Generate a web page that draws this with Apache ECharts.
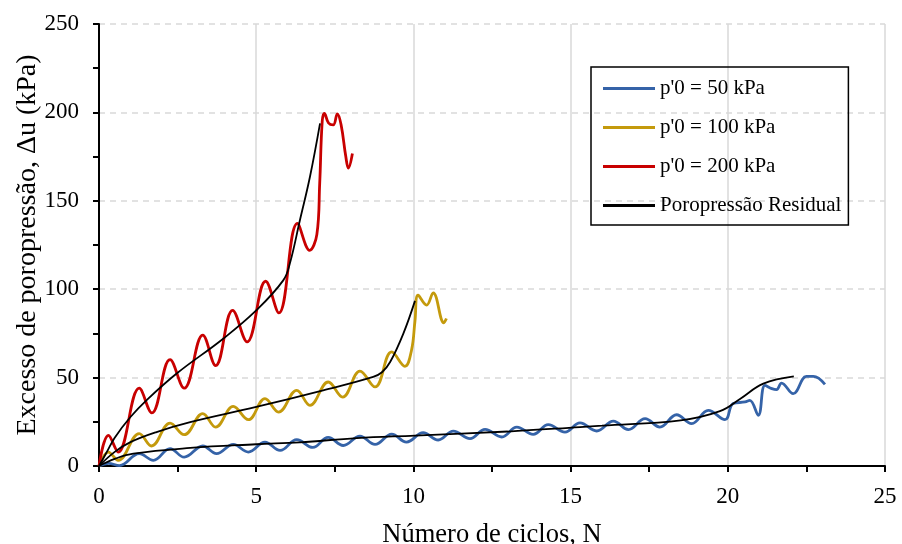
<!DOCTYPE html>
<html>
<head>
<meta charset="utf-8">
<script src="https://cdn.jsdelivr.net/npm/echarts@6/dist/echarts.min.js"></script>
<style>html,body{margin:0;padding:0;background:#fff}#c{width:902px;height:544px}</style>
</head>
<body>
<div id="c"></div>
<script>
// Measured data [N, Δu kPa]
var p50 = [[0,0],[0.3,1.5],[0.65,0.2],[1.28,7],[1.73,3.2],[2.26,9.8],[2.71,5],[3.3,11.3],[3.74,7],[4.27,12.2],[4.75,7.9],[5.28,13.5],[5.76,8.8],[6.29,14.9],[6.8,10.5],[7.29,16.2],[7.77,11.6],[8.3,16.9],[8.78,12.2],[9.31,18],[9.78,13.5],[10.31,18.9],[10.79,14.7],[11.27,19.7],[11.8,15.5],[12.28,20.7],[12.81,16.4],[13.29,22],[13.81,17.9],[14.29,23.4],[14.82,19.2],[15.3,24.4],[15.83,19.8],[16.36,25.4],[16.84,20.6],[17.37,26.8],[17.84,22],[18.37,29],[18.85,24],[19.38,31.5],[19.91,26.2],[20.17,35.3],[20.55,36.2],[20.7,37.1],[20.97,28.7],[21.18,45.6],[21.4,43.8],[21.55,43.2],[21.71,46.9],[22.08,40.9],[22.5,50.7],[22.72,50.7],[23.09,46.2]];
var p100 = [[0,0],[0.3,7.9],[0.61,3.2],[1.28,18.3],[1.67,11.3],[2.26,24.3],[2.71,17.7],[3.3,29.6],[3.71,22],[4.27,33.7],[4.75,26.2],[5.28,38.1],[5.71,30.5],[6.29,42.8],[6.71,34.3],[7.29,47.5],[7.75,39],[8.3,53.7],[8.78,44.7],[9.31,64.5],[9.73,56.4],[9.94,65.5],[10.05,82],[10.15,96.6],[10.42,91],[10.63,97.9],[10.97,81],[11.05,83.4]];
var p200 = [[0,0],[0.3,17.3],[0.61,7.9],[1.28,44],[1.68,30],[2.26,60.2],[2.71,44],[3.3,74],[3.71,56.8],[4.25,88],[4.71,70.2],[5.3,104.5],[5.72,86.6],[6.31,137.2],[6.7,122],[6.93,131],[7.02,160],[7.1,195],[7.17,199.5],[7.3,194],[7.45,192.9],[7.58,199.2],[7.7,193],[7.85,175],[7.93,168.5],[8.06,176.8]];
var res50 = [[0,0],[0.5,4],[1.09,7],[2.9,10.2],[5,12.3],[6.39,13.4],[8.2,15.8],[10.05,17.2],[13,19.5],[15.3,22],[16,22.8],[18.5,25.8],[19.75,31],[20.4,38.1],[21.13,46.6],[22.1,50.7]];
var res100 = [[0,0],[0.5,8],[1,13.5],[1.83,19.2],[2.9,24.8],[5,33.4],[7.13,42.8],[8.72,50.4],[9.0,53],[9.26,58.8],[9.68,74.9],[10.05,93.4]];
var res200 = [[0,0],[0.25,8],[0.5,16],[1,27.7],[1.5,37],[2.47,52.3],[3.95,72],[5,88],[5.86,105],[6.07,114.5],[6.39,139],[6.71,163.6],[7.03,193.8]];
var seriesNames = ["p'0 = 50 kPa","p'0 = 100 kPa","p'0 = 200 kPa","Poropressão Residual"];
var xName = 'Número de ciclos, N';
var yName = 'Excesso de poropressão, Δu (kPa)';

var FONT = 'Liberation Serif';
var chart = echarts.init(document.getElementById('c'));
function mk(name, data, color, width, z) {
  return {name: name, type: 'line', data: data, smooth: 0.4, symbol: 'none', z: z,
    lineStyle: {color: color, width: width}, itemStyle: {color: color}};
}
chart.setOption({
  animation: false,
  backgroundColor: '#fff',
  grid: {left: 99, right: 17, top: 24, bottom: 78, outerBoundsMode: 'none', containLabel: false},
  legend: {
    orient: 'vertical', left: 591, top: 67,
    padding: [11, 7, 9, 12], itemGap: 18,
    borderColor: '#000', borderWidth: 1.5,
    icon: 'rect', itemWidth: 52, itemHeight: 3,
    textStyle: {fontFamily: FONT, fontSize: 21, color: '#000'},
    data: seriesNames
  },
  xAxis: {
    type: 'value', min: 0, max: 25, interval: 5,
    name: xName, nameLocation: 'middle', nameGap: 56, nameMoveOverlap: false,
    nameTextStyle: {fontFamily: FONT, fontSize: 26.5, color: '#000'},
    axisLine: {show: true, lineStyle: {color: '#000', width: 2}},
    axisTick: {show: true, length: 6, lineStyle: {color: '#000', width: 2}},
    minorTick: {show: true, splitNumber: 2, length: 6, lineStyle: {color: '#000', width: 2}},
    axisLabel: {fontFamily: FONT, fontSize: 23, color: '#000', margin: 19},
    splitLine: {show: true, lineStyle: {color: '#d9d9d9', width: 1.5, type: 'solid'}}
  },
  yAxis: {
    type: 'value', min: 0, max: 250, interval: 50,
    name: yName, nameLocation: 'middle', nameGap: 57, nameMoveOverlap: false,
    nameTextStyle: {fontFamily: FONT, fontSize: 28, color: '#000'},
    axisLine: {show: true, lineStyle: {color: '#000', width: 2}},
    axisTick: {show: true, length: 6, lineStyle: {color: '#000', width: 2}},
    minorTick: {show: true, splitNumber: 2, length: 6, lineStyle: {color: '#000', width: 2}},
    axisLabel: {fontFamily: FONT, fontSize: 23, color: '#000', margin: 20},
    splitLine: {show: true, lineStyle: {color: '#d9d9d9', width: 1.5, type: [6, 5]}}
  },
  series: [
    mk(seriesNames[0], p50, '#3563a8', 2.8, 2),
    mk(seriesNames[1], p100, '#c49a0c', 2.8, 2),
    mk(seriesNames[2], p200, '#c80000', 2.8, 2),
    mk(seriesNames[3], res50, '#000', 1.8, 3),
    mk(seriesNames[3], res100, '#000', 1.8, 3),
    mk(seriesNames[3], res200, '#000', 1.8, 3)
  ]
});
</script>
</body>
</html>
